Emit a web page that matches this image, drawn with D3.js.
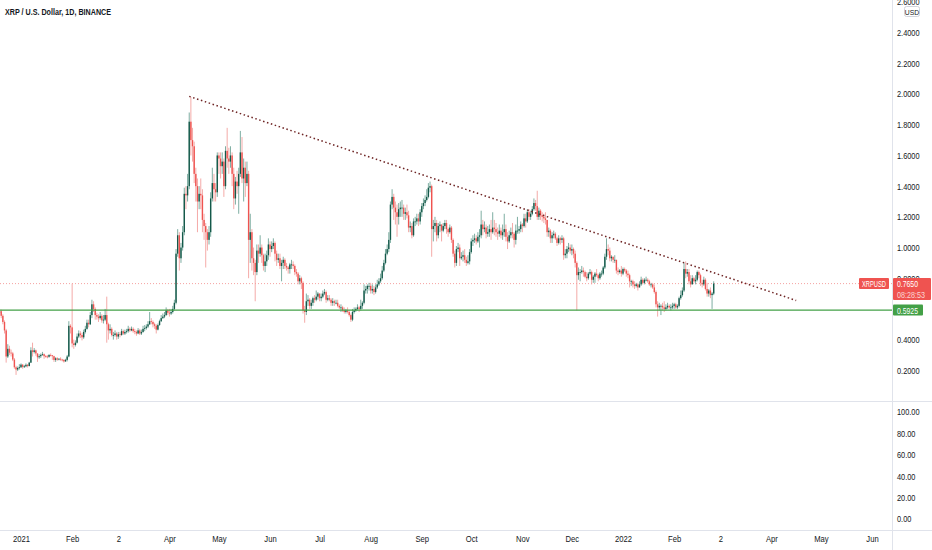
<!DOCTYPE html>
<html>
<head>
<meta charset="utf-8">
<script src="https://cdn.jsdelivr.net/npm/d3@7"></script>
<style>
  html, body { margin: 0; padding: 0; background: #fff; overflow: hidden; }
  svg { display: block; font-family: "Liberation Sans", Arial, sans-serif; }
</style>
</head>
<body>
<svg id="chart" width="932" height="550"></svg>
<script>
// daily XRPUSD candles from 19 Dec 2020, open = previous close
const firstDay = "2020-12-19"
const firstOpen = 0.575
const closes = [
  0.585, 0.555, 0.515, 0.460, 0.290, 0.340, 0.315, 0.310, 0.270, 0.220, 0.205, 0.215, 0.220,
  0.237, 0.222, 0.226, 0.236, 0.228, 0.250, 0.330, 0.320, 0.330, 0.310, 0.285, 0.292, 0.300, 0.305, 0.292, 0.290, 0.288, 0.300, 0.298, 0.292, 0.268, 0.278, 0.270, 0.275, 0.270, 0.268, 0.258, 0.268, 0.290, 0.490, 0.480,
  0.375, 0.365, 0.380, 0.420, 0.440, 0.430, 0.415, 0.450, 0.470, 0.510, 0.500, 0.560, 0.630, 0.600, 0.560, 0.550, 0.540, 0.555, 0.525, 0.530, 0.560, 0.500, 0.460, 0.470, 0.430, 0.430, 0.440, 0.420,
  0.435, 0.430, 0.455, 0.440, 0.450, 0.455, 0.470, 0.460, 0.470, 0.455, 0.450, 0.440, 0.460, 0.440, 0.450, 0.470, 0.475, 0.485, 0.500, 0.520, 0.515, 0.500, 0.490, 0.465, 0.495, 0.520, 0.540, 0.550, 0.560, 0.590, 0.575,
  0.570, 0.580, 0.600, 0.640, 0.960, 1.080, 0.930, 1.000, 1.100, 1.350, 1.340, 1.400, 1.820, 1.700, 1.660, 1.480, 1.400, 1.300, 1.350, 1.340, 1.180, 1.140, 1.100, 1.050, 1.100, 1.320, 1.420, 1.380, 1.360, 1.600,
  1.580, 1.530, 1.560, 1.400, 1.630, 1.580, 1.560, 1.600, 1.480, 1.320, 1.430, 1.400, 1.480, 1.620, 1.450, 1.520, 1.420, 1.480, 1.050, 1.100, 0.930, 0.900, 0.840, 0.980, 0.960, 1.000, 0.950, 0.880, 0.910, 0.950, 1.020,
  0.990, 1.010, 1.030, 0.960, 0.920, 0.930, 0.880, 0.900, 0.920, 0.880, 0.870, 0.860, 0.890, 0.890, 0.880, 0.840, 0.830, 0.780, 0.800, 0.770, 0.590, 0.580, 0.650, 0.660, 0.620, 0.640, 0.670, 0.660, 0.680, 0.700,
  0.670, 0.680, 0.700, 0.710, 0.660, 0.670, 0.660, 0.640, 0.650, 0.640, 0.640, 0.620, 0.610, 0.610, 0.590, 0.580, 0.590, 0.580, 0.560, 0.530, 0.580, 0.590, 0.600, 0.610, 0.600, 0.620, 0.640, 0.720, 0.730, 0.750, 0.750,
  0.720, 0.730, 0.710, 0.740, 0.760, 0.780, 0.800, 0.850, 0.900, 0.960, 0.990, 1.050, 1.280, 1.330, 1.260, 1.230, 1.200, 1.250, 1.260, 1.260, 1.220, 1.230, 1.210, 1.130, 1.140, 1.080, 1.170, 1.170, 1.190, 1.170, 1.230,
  1.270, 1.290, 1.310, 1.330, 1.390, 1.400, 1.120, 1.140, 1.160, 1.080, 1.140, 1.150, 1.110, 1.140, 1.160, 1.120, 1.100, 1.130, 1.050, 0.960, 0.900, 0.990, 1.000, 0.930, 0.940, 0.950, 0.920, 0.900, 0.910, 0.970,
  1.040, 1.050, 1.060, 1.040, 1.070, 1.080, 1.150, 1.120, 1.130, 1.090, 1.100, 1.120, 1.100, 1.130, 1.120, 1.100, 1.090, 1.110, 1.080, 1.100, 1.120, 1.070, 1.040, 1.080, 1.100, 1.090, 1.050, 1.110, 1.110, 1.120, 1.150,
  1.140, 1.190, 1.170, 1.230, 1.200, 1.220, 1.250, 1.290, 1.270, 1.200, 1.240, 1.210, 1.200, 1.190, 1.180, 1.100, 1.110, 1.060, 1.080, 1.090, 1.060, 1.030, 1.060, 1.050, 1.060, 0.950, 0.960, 0.990, 1.000, 0.980,
  0.990, 0.960, 0.900, 0.820, 0.840, 0.840, 0.850, 0.840, 0.810, 0.800, 0.830, 0.840, 0.790, 0.810, 0.830, 0.820, 0.800, 0.830, 0.830, 0.870, 0.940, 0.990, 0.980, 0.930, 0.940, 0.920, 0.920, 0.850, 0.840, 0.850, 0.830,
  0.860, 0.850, 0.830, 0.820, 0.780, 0.780, 0.760, 0.750, 0.760, 0.740, 0.760, 0.790, 0.770, 0.790, 0.790, 0.780, 0.760, 0.760, 0.740, 0.710, 0.630, 0.610, 0.620, 0.620, 0.610, 0.600, 0.610, 0.620, 0.610, 0.610, 0.620,
  0.630, 0.610, 0.620, 0.670, 0.690, 0.720, 0.860, 0.830, 0.840, 0.780, 0.760, 0.800, 0.780, 0.790, 0.840, 0.820, 0.770, 0.760, 0.790, 0.730, 0.700, 0.720, 0.690, 0.700, 0.765
]
const highs = [
  0.600, 0.595, 0.565, 0.525, 0.470, 0.370, 0.360, 0.335, 0.320, 0.280, 0.230, 0.225, 0.240,
  0.245, 0.240, 0.235, 0.245, 0.240, 0.255, 0.350, 0.380, 0.345, 0.335, 0.310, 0.305, 0.310, 0.320, 0.310, 0.300, 0.300, 0.305, 0.310, 0.300, 0.295, 0.285, 0.285, 0.280, 0.285, 0.275, 0.272, 0.275, 0.300, 0.520, 0.500,
  0.765, 0.400, 0.395, 0.440, 0.460, 0.455, 0.445, 0.465, 0.490, 0.530, 0.530, 0.580, 0.660, 0.650, 0.610, 0.575, 0.565, 0.580, 0.565, 0.560, 0.600, 0.680, 0.510, 0.500, 0.480, 0.450, 0.460, 0.450,
  0.450, 0.450, 0.470, 0.465, 0.465, 0.470, 0.490, 0.480, 0.485, 0.480, 0.470, 0.460, 0.475, 0.470, 0.465, 0.490, 0.495, 0.500, 0.520, 0.580, 0.540, 0.525, 0.510, 0.500, 0.505, 0.530, 0.560, 0.570, 0.580, 0.610, 0.600,
  0.600, 0.600, 0.620, 0.660, 0.990, 1.120, 1.100, 1.030, 1.140, 1.390, 1.400, 1.480, 1.880, 1.980, 1.780, 1.690, 1.520, 1.450, 1.400, 1.450, 1.380, 1.220, 1.160, 1.120, 1.140, 1.360, 1.520, 1.480, 1.420, 1.620,
  1.620, 1.620, 1.620, 1.580, 1.660, 1.780, 1.650, 1.660, 1.620, 1.520, 1.460, 1.500, 1.520, 1.760, 1.720, 1.580, 1.560, 1.560, 1.500, 1.220, 1.120, 1.000, 0.920, 1.020, 1.020, 1.080, 1.020, 0.960, 0.960, 0.980, 1.060,
  1.040, 1.040, 1.060, 1.040, 0.980, 0.960, 0.960, 0.920, 0.940, 0.930, 0.900, 0.880, 0.900, 0.920, 0.910, 0.890, 0.860, 0.840, 0.820, 0.810, 0.780, 0.620, 0.700, 0.690, 0.670, 0.660, 0.680, 0.690, 0.720, 0.710,
  0.700, 0.700, 0.720, 0.730, 0.720, 0.690, 0.690, 0.670, 0.670, 0.660, 0.660, 0.660, 0.630, 0.630, 0.620, 0.610, 0.600, 0.610, 0.590, 0.570, 0.600, 0.610, 0.610, 0.630, 0.620, 0.660, 0.650, 0.760, 0.750, 0.760, 0.770,
  0.770, 0.760, 0.750, 0.760, 0.790, 0.800, 0.830, 0.880, 0.920, 0.990, 1.020, 1.100, 1.300, 1.380, 1.350, 1.300, 1.280, 1.290, 1.300, 1.310, 1.280, 1.260, 1.280, 1.240, 1.170, 1.160, 1.190, 1.200, 1.220, 1.220, 1.250,
  1.290, 1.320, 1.340, 1.380, 1.420, 1.430, 1.410, 1.180, 1.200, 1.180, 1.160, 1.170, 1.150, 1.160, 1.180, 1.180, 1.130, 1.150, 1.140, 1.060, 0.980, 1.010, 1.030, 1.020, 0.970, 0.980, 0.990, 0.940, 0.950, 0.990,
  1.060, 1.080, 1.090, 1.080, 1.100, 1.120, 1.240, 1.180, 1.170, 1.150, 1.140, 1.150, 1.180, 1.230, 1.180, 1.160, 1.130, 1.150, 1.130, 1.150, 1.220, 1.150, 1.100, 1.110, 1.130, 1.160, 1.100, 1.150, 1.200, 1.140, 1.170,
  1.160, 1.220, 1.220, 1.250, 1.250, 1.240, 1.270, 1.320, 1.310, 1.370, 1.260, 1.250, 1.230, 1.220, 1.230, 1.180, 1.130, 1.120, 1.100, 1.110, 1.100, 1.070, 1.080, 1.070, 1.080, 1.070, 0.990, 1.010, 1.030, 1.020,
  1.020, 1.000, 0.980, 0.910, 0.870, 0.860, 0.880, 0.870, 0.850, 0.840, 0.840, 0.860, 0.850, 0.820, 0.840, 0.860, 0.830, 0.840, 0.850, 0.880, 0.960, 1.060, 1.020, 1.000, 0.950, 0.940, 0.950, 0.920, 0.870, 0.860, 0.880,
  0.870, 0.870, 0.860, 0.850, 0.830, 0.790, 0.790, 0.780, 0.770, 0.770, 0.780, 0.810, 0.800, 0.800, 0.810, 0.800, 0.790, 0.770, 0.770, 0.760, 0.720, 0.650, 0.640, 0.630, 0.640, 0.650, 0.630, 0.640, 0.630, 0.630, 0.640,
  0.640, 0.640, 0.630, 0.680, 0.720, 0.740, 0.900, 0.910, 0.860, 0.860, 0.820, 0.820, 0.810, 0.820, 0.850, 0.850, 0.830, 0.790, 0.810, 0.800, 0.770, 0.730, 0.740, 0.710, 0.780
]
const lows = [
  0.560, 0.540, 0.500, 0.440, 0.250, 0.280, 0.300, 0.290, 0.260, 0.210, 0.170, 0.195, 0.205,
  0.215, 0.210, 0.215, 0.220, 0.218, 0.225, 0.248, 0.290, 0.310, 0.295, 0.255, 0.275, 0.280, 0.295, 0.275, 0.282, 0.278, 0.282, 0.290, 0.268, 0.255, 0.255, 0.262, 0.265, 0.262, 0.258, 0.250, 0.255, 0.258, 0.285, 0.440,
  0.350, 0.340, 0.355, 0.375, 0.410, 0.410, 0.395, 0.405, 0.440, 0.465, 0.480, 0.495, 0.540, 0.580, 0.530, 0.530, 0.515, 0.530, 0.510, 0.505, 0.520, 0.380, 0.400, 0.440, 0.420, 0.400, 0.420, 0.400,
  0.405, 0.415, 0.425, 0.430, 0.430, 0.440, 0.445, 0.450, 0.455, 0.445, 0.435, 0.425, 0.435, 0.430, 0.430, 0.445, 0.455, 0.465, 0.475, 0.495, 0.500, 0.480, 0.470, 0.440, 0.460, 0.490, 0.515, 0.535, 0.540, 0.555, 0.560,
  0.550, 0.560, 0.570, 0.590, 0.630, 0.940, 0.850, 0.900, 0.980, 1.080, 1.250, 1.300, 1.380, 1.600, 1.560, 1.420, 1.300, 1.100, 1.250, 1.250, 1.100, 1.050, 0.870, 0.980, 1.020, 1.070, 1.300, 1.300, 1.300, 1.330,
  1.480, 1.450, 1.480, 1.330, 1.380, 1.520, 1.480, 1.520, 1.400, 1.250, 1.280, 1.350, 1.220, 1.460, 1.420, 1.300, 1.330, 1.400, 0.800, 0.900, 0.850, 0.820, 0.650, 0.820, 0.900, 0.940, 0.900, 0.850, 0.840, 0.880, 0.920,
  0.940, 0.970, 0.990, 0.910, 0.880, 0.900, 0.860, 0.780, 0.860, 0.860, 0.850, 0.830, 0.830, 0.860, 0.860, 0.820, 0.810, 0.760, 0.760, 0.730, 0.570, 0.510, 0.560, 0.620, 0.600, 0.600, 0.620, 0.640, 0.650, 0.660,
  0.650, 0.650, 0.670, 0.690, 0.640, 0.650, 0.650, 0.620, 0.620, 0.620, 0.630, 0.610, 0.600, 0.580, 0.580, 0.570, 0.570, 0.570, 0.550, 0.515, 0.520, 0.570, 0.580, 0.590, 0.580, 0.590, 0.600, 0.630, 0.700, 0.700, 0.720,
  0.700, 0.700, 0.690, 0.700, 0.730, 0.750, 0.770, 0.790, 0.840, 0.890, 0.950, 0.970, 1.030, 1.250, 1.180, 1.150, 1.070, 1.150, 1.200, 1.200, 1.180, 1.180, 1.190, 1.100, 1.100, 1.060, 1.070, 1.140, 1.150, 1.140, 1.150,
  1.200, 1.250, 1.270, 1.300, 1.320, 1.360, 0.940, 1.040, 1.100, 1.040, 1.060, 1.100, 1.040, 1.100, 1.120, 1.090, 1.070, 1.090, 1.030, 0.940, 0.870, 0.880, 0.970, 0.880, 0.920, 0.910, 0.900, 0.880, 0.890, 0.890,
  0.960, 1.010, 1.030, 1.020, 1.030, 1.000, 1.060, 1.080, 1.100, 1.060, 1.070, 1.070, 1.050, 1.090, 1.080, 1.070, 1.050, 1.070, 1.060, 1.050, 1.070, 1.040, 0.990, 1.030, 1.060, 1.060, 1.000, 1.020, 1.090, 1.090, 1.100,
  1.100, 1.130, 1.130, 1.160, 1.180, 1.180, 1.210, 1.240, 1.240, 1.180, 1.180, 1.180, 1.170, 1.160, 1.150, 1.070, 1.070, 1.030, 1.030, 1.060, 1.050, 1.010, 1.020, 1.020, 1.030, 0.920, 0.930, 0.930, 0.970, 0.960,
  0.950, 0.930, 0.870, 0.590, 0.790, 0.780, 0.830, 0.810, 0.800, 0.780, 0.790, 0.820, 0.760, 0.770, 0.770, 0.810, 0.780, 0.790, 0.810, 0.820, 0.860, 0.920, 0.950, 0.910, 0.910, 0.900, 0.900, 0.830, 0.820, 0.830, 0.810,
  0.820, 0.840, 0.810, 0.800, 0.740, 0.750, 0.740, 0.730, 0.740, 0.720, 0.740, 0.750, 0.760, 0.760, 0.780, 0.770, 0.750, 0.740, 0.730, 0.700, 0.610, 0.550, 0.590, 0.560, 0.590, 0.580, 0.590, 0.600, 0.600, 0.590, 0.600,
  0.600, 0.600, 0.600, 0.610, 0.660, 0.680, 0.710, 0.800, 0.810, 0.760, 0.740, 0.760, 0.770, 0.760, 0.780, 0.800, 0.750, 0.740, 0.750, 0.720, 0.680, 0.680, 0.670, 0.600, 0.690
]

const priceTicks = [0.2, 0.4, 0.6, 0.8, 1.0, 1.2, 1.4, 1.6, 1.8, 2.0, 2.2, 2.4, 2.6]
const lowerTicks = [0, 20, 40, 60, 80, 100]
const timeTicks = ["2021-01-01", "2021-02-01", "2021-03-01", "2021-04-01", "2021-05-01", "2021-06-01",
  "2021-07-01", "2021-08-01", "2021-09-01", "2021-10-01", "2021-11-01", "2021-12-01",
  "2022-01-01", "2022-02-01", "2022-03-01", "2022-04-01", "2022-05-01", "2022-06-01"]
const timeLabels = ["2021", "Feb", "2", "Apr", "May", "Jun", "Jul", "Aug", "Sep", "Oct", "Nov", "Dec",
  "2022", "Feb", "2", "Apr", "May", "Jun"]

const support = 0.5925
const lastPrice = 0.7650
const countdown = "08:28:53"
const trendDates = ["2021-04-13", "2022-04-16"]
const trendPrices = [1.985, 0.655]

;(function () {
    const W = 932, H = 550
    const axisX = 892      // right price scale starts here
    const priceBottom = 401
    const lowerBottom = 530

    const svg = d3.select("#chart")
    const parse = d3.utcParse("%Y-%m-%d")

    // the tradingview font is narrower than anything installed, so squeeze glyphs a bit
    function squeeze(sel, k) {
        sel.each(function () {
            const w = this.getComputedTextLength()
            d3.select(this).attr("textLength", w * k).attr("lengthAdjust", "spacingAndGlyphs")
        })
    }

    const x = d3.scaleUtc()
        .domain([parse("2021-01-01"), parse("2022-01-01")])
        .range([21, 623])
    const y = d3.scaleLinear().domain([0, 2.6]).range([priceBottom, 2])
    const yLow = d3.scaleLinear().domain([0, 100]).range([519, 412])

    const up = "#14594a", upWick = "#6fa597"
    const down = "#ef5350", downWick = "#f3a09e"
    const grey = "#e0e3eb", textCol = "#131722"

    svg.append("defs").append("clipPath").attr("id", "pane")
        .append("rect").attr("x", 0).attr("y", 0).attr("width", axisX).attr("height", priceBottom)

    // candles
    const start = parse(firstDay)
    const candles = closes.map((c, i) => ({
        date: d3.utcDay.offset(start, i),
        o: i === 0 ? firstOpen : closes[i - 1],
        h: highs[i], l: lows[i], c: c
    }))

    const pane = svg.append("g").attr("clip-path", "url(#pane)")

    // current price dotted line
    pane.append("line")
        .attr("x1", 0).attr("x2", axisX)
        .attr("y1", y(lastPrice)).attr("y2", y(lastPrice))
        .attr("stroke", "#f28b89").attr("stroke-opacity", 0.8)
        .attr("stroke-dasharray", "1,2").attr("stroke-width", 1)

    const g = pane.selectAll("g.candle").data(candles).join("g").attr("class", "candle")
    g.append("line")
        .attr("x1", d => x(d.date)).attr("x2", d => x(d.date))
        .attr("y1", d => y(d.h)).attr("y2", d => y(d.l))
        .attr("stroke", d => d.c >= d.o ? upWick : downWick)
        .attr("stroke-width", 0.9)
    g.append("rect")
        .attr("x", d => x(d.date) - 0.7)
        .attr("width", 1.4)
        .attr("y", d => y(Math.max(d.o, d.c)))
        .attr("height", d => Math.max(0.8, Math.abs(y(d.o) - y(d.c))))
        .attr("fill", d => d.c >= d.o ? up : down)

    // support line
    pane.append("line")
        .attr("x1", 0).attr("x2", axisX)
        .attr("y1", y(support)).attr("y2", y(support))
        .attr("stroke", "#43a047").attr("stroke-width", 1.3)

    // descending trend line
    pane.append("line")
        .attr("x1", x(parse(trendDates[0]))).attr("y1", y(trendPrices[0]))
        .attr("x2", x(parse(trendDates[1]))).attr("y2", y(trendPrices[1]))
        .attr("stroke", "#6e2424").attr("stroke-width", 1.5)
        .attr("stroke-dasharray", "1.5,2.6")

    // panel borders
    svg.append("line").attr("x1", 0).attr("x2", W).attr("y1", priceBottom + 0.5).attr("y2", priceBottom + 0.5)
        .attr("stroke", grey)
    svg.append("line").attr("x1", 0).attr("x2", W).attr("y1", lowerBottom + 0.5).attr("y2", lowerBottom + 0.5)
        .attr("stroke", grey)
    svg.append("line").attr("x1", axisX + 0.5).attr("x2", axisX + 0.5).attr("y1", 0).attr("y2", H)
        .attr("stroke", grey)

    // right price axis
    svg.append("g")
        .attr("transform", `translate(${axisX},0)`)
        .call(d3.axisRight(y).tickValues(priceTicks).tickFormat(d3.format(".4f")).tickSize(0).tickPadding(5))
        .call(g => g.select(".domain").remove())
        .call(g => g.selectAll("text").attr("font-size", 9).attr("fill", textCol)
            .attr("font-family", "'Liberation Sans', Arial, sans-serif").call(squeeze, 0.82))

    svg.append("g")
        .attr("transform", `translate(${axisX},0)`)
        .call(d3.axisRight(yLow).tickValues(lowerTicks).tickFormat(d3.format(".2f")).tickSize(0).tickPadding(5))
        .call(g => g.select(".domain").remove())
        .call(g => g.selectAll("text").attr("font-size", 9).attr("fill", textCol)
            .attr("font-family", "'Liberation Sans', Arial, sans-serif").call(squeeze, 0.82))

    // time axis
    svg.append("g")
        .attr("transform", `translate(0,${lowerBottom})`)
        .call(d3.axisBottom(x).tickValues(timeTicks.map(parse)).tickFormat((d, i) => timeLabels[i]).tickSize(0).tickPadding(6))
        .call(g => g.select(".domain").remove())
        .call(g => g.selectAll("text").attr("font-size", 8.5).attr("fill", textCol)
            .attr("font-family", "'Liberation Sans', Arial, sans-serif").call(squeeze, 0.9))

    // USD badge
    svg.append("rect").attr("x", 904.5).attr("y", 6.5).attr("width", 15).attr("height", 10).attr("rx", 2)
        .attr("fill", "#fff").attr("stroke", "#d1d4dc")
    svg.append("text").attr("x", 912).attr("y", 14.5).attr("text-anchor", "middle")
        .attr("font-size", 8).attr("fill", textCol).text("USD").call(squeeze, 0.85)

    // last price labels
    const ly = y(lastPrice)
    svg.append("rect").attr("x", 859).attr("y", ly - 5.5).attr("width", 30).attr("height", 11).attr("rx", 1)
        .attr("fill", "#ef5350")
    svg.append("text").attr("x", 874).attr("y", ly + 3).attr("text-anchor", "middle")
        .attr("font-size", 8.5).attr("fill", "#fff").text("XRPUSD")
        .attr("textLength", 24).attr("lengthAdjust", "spacingAndGlyphs")
    svg.append("rect").attr("x", axisX + 1).attr("y", ly - 5.5).attr("width", 38).attr("height", 22).attr("rx", 1)
        .attr("fill", "#ef5350")
    svg.append("text").attr("x", axisX + 5).attr("y", ly + 3.5)
        .attr("font-size", 9).attr("fill", "#fff").text(d3.format(".4f")(lastPrice))
        .attr("textLength", 21).attr("lengthAdjust", "spacingAndGlyphs")
    svg.append("text").attr("x", axisX + 5).attr("y", ly + 14)
        .attr("font-size", 9).attr("fill", "#fff").attr("fill-opacity", 0.75).text(countdown)
        .attr("textLength", 28).attr("lengthAdjust", "spacingAndGlyphs")

    // support label
    const sy = y(support)
    svg.append("rect").attr("x", axisX + 1).attr("y", sy - 5.5).attr("width", 30).attr("height", 11).attr("rx", 1)
        .attr("fill", "#43a047")
    svg.append("text").attr("x", axisX + 5).attr("y", sy + 3.5)
        .attr("font-size", 9).attr("fill", "#fff").text(d3.format(".4f")(support))
        .attr("textLength", 21).attr("lengthAdjust", "spacingAndGlyphs")

    // title
    svg.append("text").attr("x", 5).attr("y", 15)
        .attr("font-size", 9.5).attr("font-weight", 600).attr("fill", textCol)
        .text("XRP / U.S. Dollar, 1D, BINANCE")
        .attr("textLength", 106).attr("lengthAdjust", "spacingAndGlyphs")
}).call(this);
</script>
</body>
</html>
